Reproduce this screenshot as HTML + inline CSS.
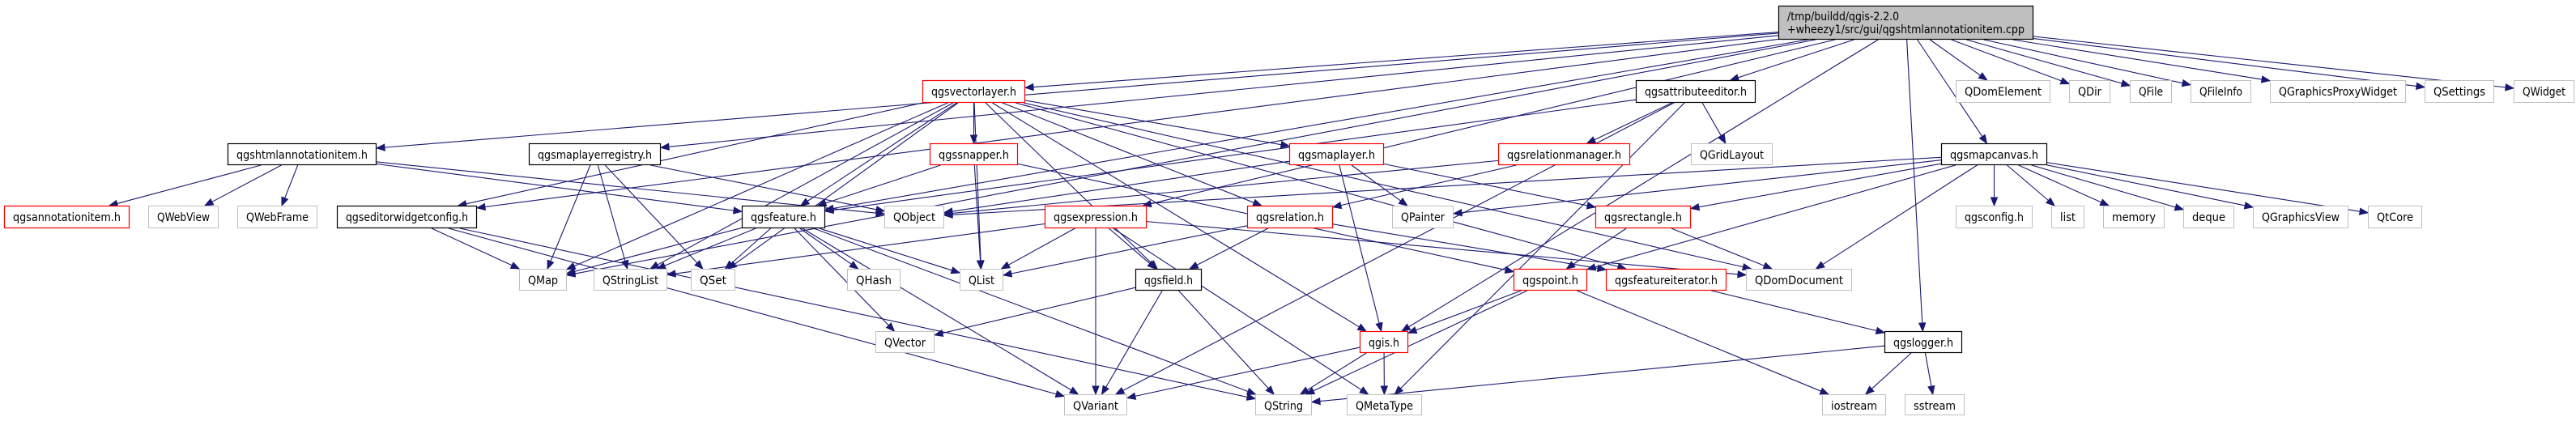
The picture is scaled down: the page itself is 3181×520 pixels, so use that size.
<!DOCTYPE html>
<html><head><meta charset="utf-8"><style>
html,body{margin:0;padding:0;background:#fff;}
svg{display:block;}
text{font-family:"DejaVu Sans Condensed","DejaVu Sans","Liberation Sans",sans-serif;font-size:14px;fill:#000;}
</style></head><body>
<svg id="g" xmlns="http://www.w3.org/2000/svg" width="3181" height="520" viewBox="0 0 3181 520">
<rect x="0" y="0" width="3181" height="520" fill="#fff"/>
<g id="edges"></g>
<g id="nodes"></g>
</svg>
<script>
var R=[[99,127],[177,204],[254,282],[332,359],[409,436],[487,513]];
var N={
main:[2196,2511,7,49,'k','',1],
vl:[1139,1266,0,0,'r','qgsvectorlayer.h'],
ae:[2020,2168,0,0,'k','qgsattributeeditor.h'],
QDomElement:[2415,2532,0,0,'g','QDomElement'],
QDir:[2555,2606,0,0,'g','QDir'],
QFile:[2630,2682,0,0,'g','QFile'],
QFileInfo:[2705,2780,0,0,'g','QFileInfo'],
QGPW:[2803,2971,0,0,'g','QGraphicsProxyWidget'],
QSettings:[2994,3080,0,0,'g','QSettings'],
QWidget:[3104,3179,0,0,'g','QWidget'],
hai:[281,465,1,0,'k','qgshtmlannotationitem.h'],
mlr:[653,816,1,0,'k','qgsmaplayerregistry.h'],
sn:[1148,1257,1,0,'r','qgssnapper.h'],
ml:[1592,1709,1,0,'r','qgsmaplayer.h'],
rm:[1850,2013,1,0,'r','qgsrelationmanager.h'],
QGridLayout:[2088,2189,1,0,'g','QGridLayout'],
mc:[2397,2528,1,0,'k','qgsmapcanvas.h'],
ai:[5,160,2,0,'r','qgsannotationitem.h'],
QWebView:[183,270,2,0,'g','QWebView'],
QWebFrame:[293,392,2,0,'g','QWebFrame'],
ewc:[416,589,2,0,'k','qgseditorwidgetconfig.h'],
fe:[916,1019,2,0,'k','qgsfeature.h'],
QObject:[1092,1166,2,0,'g','QObject'],
ex:[1290,1416,2,0,'r','qgsexpression.h'],
rel:[1540,1646,2,0,'r','qgsrelation.h'],
QPainter:[1719,1795,2,0,'g','QPainter'],
rect:[1970,2088,2,0,'r','qgsrectangle.h'],
cfg:[2415,2510,2,0,'g','qgsconfig.h'],
list:[2533,2574,2,0,'g','list'],
memory:[2597,2673,2,0,'g','memory'],
deque:[2696,2759,2,0,'g','deque'],
QGV:[2782,2900,2,0,'g','QGraphicsView'],
QtCore:[2924,2991,2,0,'g','QtCore'],
QMap:[641,700,3,0,'g','QMap'],
QStringList:[733,824,3,0,'g','QStringList'],
QSet:[853,908,3,0,'g','QSet'],
QHash:[1046,1112,3,0,'g','QHash'],
QList:[1185,1239,3,0,'g','QList'],
fld:[1402,1484,3,0,'k','qgsfield.h'],
pt:[1869,1960,3,0,'r','qgspoint.h'],
fi:[1983,2132,3,0,'r','qgsfeatureiterator.h'],
QDomDocument:[2156,2287,3,0,'g','QDomDocument'],
QVector:[1081,1154,4,0,'g','QVector'],
qgis:[1679,1739,4,0,'r','qgis.h'],
lg:[2327,2423,4,0,'k','qgslogger.h'],
QVariant:[1314,1392,5,0,'g','QVariant'],
QString:[1550,1620,5,0,'g','QString'],
QMetaType:[1663,1756,5,0,'g','QMetaType'],
iostream:[2250,2329,5,0,'g','iostream'],
sstream:[2352,2426,5,0,'g','sstream']
};
var E={
main:['hai','mlr','vl','fe','ewc','QMap','ae','ex','qgis','lg','mc','QDomElement','QDir','QFile','QFileInfo','QGPW','QSettings','QWidget'],
hai:['ai','QWebView','QWebFrame','QObject','fe'],
mlr:['QMap','QStringList','QSet','QObject'],
vl:['sn','fe','QSet','QMap','QStringList','QList','fld','ml','rel','fi','QDomDocument','qgis','ewc'],
sn:['fe','QList','pt'],
fe:['QMap','QStringList','QSet','QHash','QList','QVector','QVariant','QString'],
ewc:['QMap','QVariant','QString'],
ex:['QStringList','QList','fld','QVariant','QMetaType','QDomDocument'],
rel:['QList','fld','fi'],
fld:['QVector','QVariant','QString'],
ml:['QObject','QPainter','qgis','rect'],
rm:['QObject','rel'],
ae:['rm','QGridLayout','QVariant','QMetaType','fe'],
rect:['pt','QDomDocument'],
pt:['qgis','QString','iostream'],
fi:['lg'],
qgis:['QVariant','QString','QMetaType'],
lg:['QString','iostream','sstream'],
mc:['QPainter','rect','pt','QDomDocument','cfg','list','memory','deque','QGV','QtCore','QObject']
};
var NS='http://www.w3.org/2000/svg';
function el(t,a,p){var e=document.createElementNS(NS,t);for(var k in a)e.setAttribute(k,a[k]);p.appendChild(e);return e;}
var ng=document.getElementById('nodes'),eg=document.getElementById('edges');
for(var k in N){var n=N[k];if(!n[6]){n[3]=R[n[2]][1];n[2]=R[n[2]][0];}}
function bnd(n,dx,dy){var cx=(n[0]+n[1])/2,cy=(n[2]+n[3])/2,hw=(n[1]-n[0])/2,hh=(n[3]-n[2])/2;
 var t=Math.min(dx?hw/Math.abs(dx):1e9,dy?hh/Math.abs(dy):1e9);return [cx+dx*t,cy+dy*t];}
for(var s in E){E[s].forEach(function(t){
 var a=N[s],b=N[t];
 var acx=(a[0]+a[1])/2,acy=(a[2]+a[3])/2,bcx=(b[0]+b[1])/2,bcy=(b[2]+b[3])/2;
 var dx=bcx-acx,dy=bcy-acy;
 var p=bnd(a,dx,dy),q=bnd(b,-dx,-dy);
 var ex=q[0]-p[0],ey=q[1]-p[1],L=Math.sqrt(ex*ex+ey*ey)||1;ex/=L;ey/=L;
 var al=10,aw=4;
 var bx=q[0]-ex*al,by=q[1]-ey*al;
 el('path',{d:'M'+p[0]+','+p[1]+' L'+bx+','+by,fill:'none',stroke:'#191970','stroke-width':'1.1'},eg);
 el('polygon',{points:q[0]+','+q[1]+' '+(bx-ey*aw)+','+(by+ex*aw)+' '+(bx+ey*aw)+','+(by-ex*aw),fill:'#191970',stroke:'#191970'},eg);
});}
for(var k in N){var n=N[k];
 var col=n[4]=='r'?'#ff0000':(n[4]=='g'?'#bfbfbf':'#000000');
 el('rect',{x:n[0]+0.5,y:n[2]+0.5,width:n[1]-n[0]-1,height:n[3]-n[2]-1,fill:k=='main'?'#bfbfbf':'#fff',stroke:col,'stroke-width':n[4]=='g'?1:1.2},ng);
 if(k=='main'){
  var t1=el('text',{x:2207,y:25,textLength:138,lengthAdjust:'spacingAndGlyphs'},ng);t1.textContent='/tmp/buildd/qgis-2.2.0';
  var t2=el('text',{x:2207,y:41,textLength:293,lengthAdjust:'spacingAndGlyphs'},ng);t2.textContent='+wheezy1/src/gui/qgshtmlannotationitem.cpp';
 } else {
  var w=n[1]-n[0];
  var t=el('text',{x:(n[0]+n[1])/2,y:n[2]+19,'text-anchor':'middle',textLength:w-22,lengthAdjust:'spacingAndGlyphs'},ng);t.textContent=n[5];
 }
}
</script>
</body></html>
